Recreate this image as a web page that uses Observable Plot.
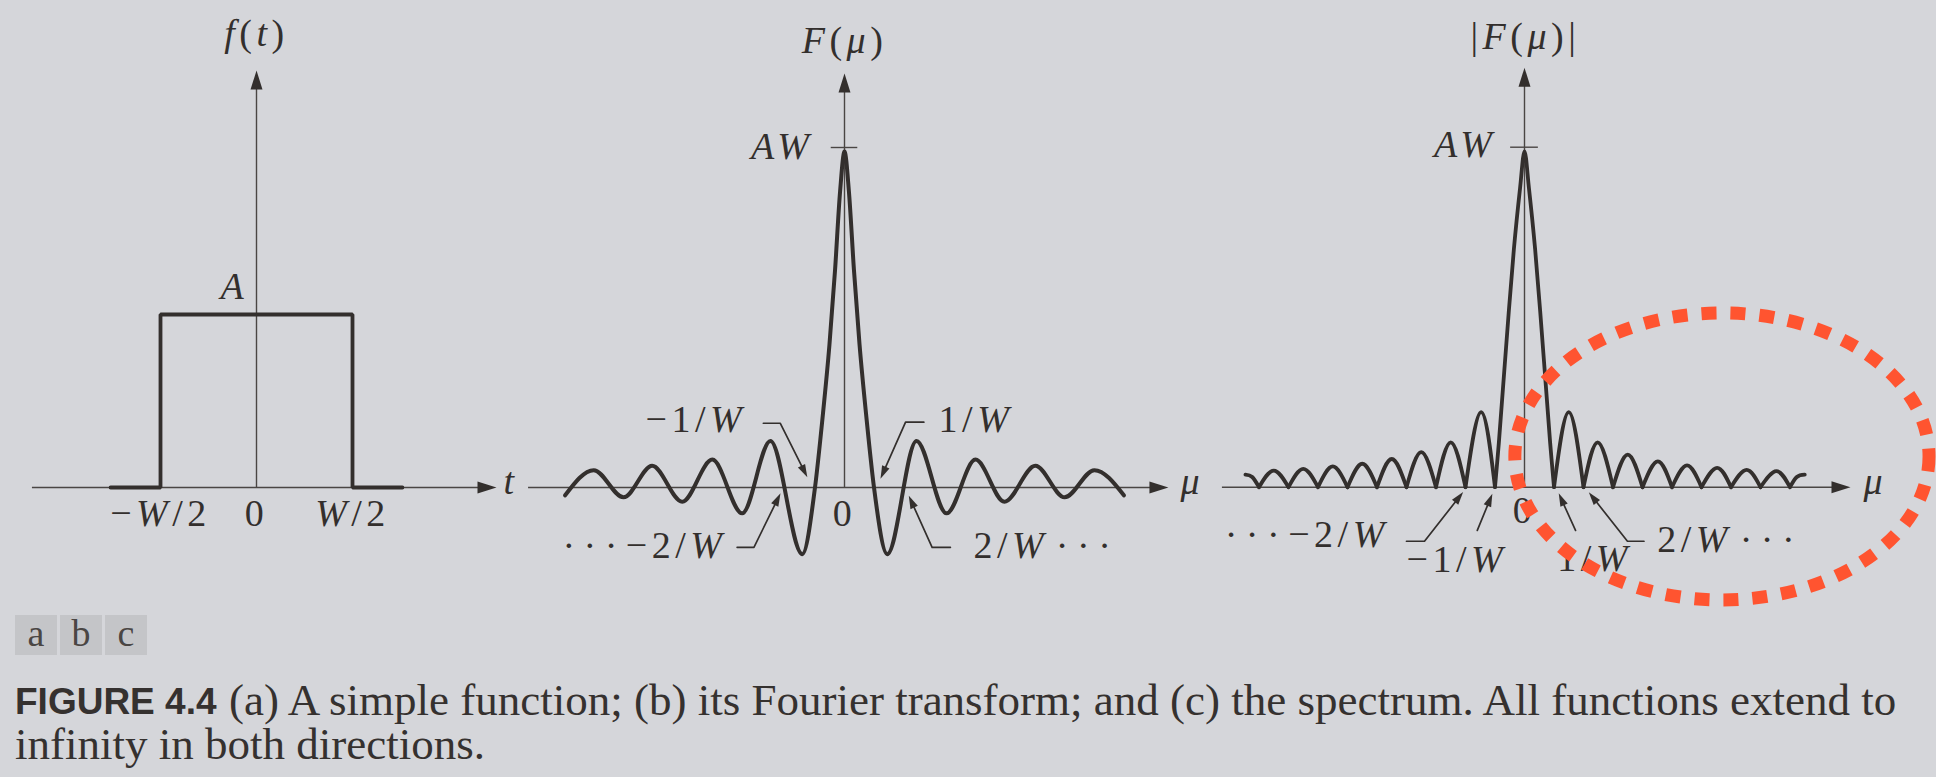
<!DOCTYPE html>
<html>
<head>
<meta charset="utf-8">
<script src="https://cdn.jsdelivr.net/npm/d3@7"></script>
<script src="https://cdn.jsdelivr.net/npm/@observablehq/plot@0.6"></script>
<style>
  html, body { margin: 0; padding: 0; background: #d5d6da; }
  #fig { position: relative; width: 1936px; height: 777px; overflow: hidden; background: #d5d6da; }
  .panel { position: absolute; top: 0; }
  .panel svg { overflow: visible; }
  .tag { position: absolute; top: 615px; width: 42px; height: 40px; background: #c4c5c8;
         font-family: "Liberation Serif", serif; font-size: 38px; color: #4a4644;
         text-align: center; line-height: 36px; }
  .cap { position: absolute; font-family: "Liberation Serif", serif; font-size: 45px; line-height: 42px;
         color: #35312f; white-space: nowrap; }
  .capb { position: absolute; font-family: "Liberation Sans", sans-serif; font-weight: 700; font-size: 37px;
          line-height: 34px; color: #35312f; white-space: nowrap; }
</style>
</head>
<body>
<div id="fig"></div>
<script>
// ---------------- DATA ----------------
// Panel (a): f(t); t in units of W, f in units of A
const pulseT = [-0.76, -0.5, -0.5, 0.5, 0.5, 0.76];
const pulseF = [0, 0, 1, 1, 0, 0];
const pulseTickT = [-0.5, 0, 0.5];
const pulseTickLabels = ["−W/2", "0", "W/2"];

// Panel (b): F(μ) extrema and main lobe; μ in units of 1/W, F in units of AW
const sincMu = [-9.47, -8.5, -7.49, -6.52, -5.5, -4.48, -3.47, -2.51, -1.43, -1,
                -0.75, -0.51, -0.32, -0.15, 0, 0.15, 0.32, 0.51, 0.75,
                1, 1.45, 2.44, 3.46, 4.44, 5.42, 6.47, 7.46, 8.47, 9.47];
const sincF  = [-0.023, 0.051, -0.029, 0.064, -0.042, 0.082, -0.076, 0.137, -0.196, 0,
                0.2, 0.42, 0.64, 0.87, 0.988, 0.87, 0.64, 0.42, 0.2,
                0, -0.196, 0.137, -0.076, 0.082, -0.042, 0.064, -0.029, 0.051, -0.023];

// Panel (c): |F(μ)| as lobes (lobe id, μ, |F|)
const specLobe = [-9,-9,-9, -8,-8,-8, -7,-7,-7, -6,-6,-6, -5,-5,-5, -4,-4,-4, -3,-3,-3, -2,-2,-2, -1,-1,-1,
                  0,0,0,0,0,0,0,0,0,0,0,
                  1,1,1, 2,2,2, 3,3,3, 4,4,4, 5,5,5, 6,6,6, 7,7,7, 8,8,8, 9,9,9];
const specMu = [-9.46,-9.23,-9, -9,-8.5,-8, -8,-7.5,-7, -7,-6.5,-6, -6,-5.5,-5, -5,-4.5,-4, -4,-3.5,-3, -3,-2.5,-2, -2,-1.47,-1,
                -1,-0.87,-0.67,-0.36,-0.15,0,0.15,0.36,0.67,0.87,1,
                1,1.5,2, 2,2.48,3, 3,3.5,4, 4,4.52,5, 5,5.51,6, 6,6.53,7, 7,7.53,8, 8,8.54,9, 9,9.23,9.5];
const specF  = [0.037,0.03,0, 0,0.049,0, 0,0.054,0, 0,0.061,0, 0,0.069,0, 0,0.083,0, 0,0.103,0, 0,0.132,0, 0,0.221,0,
                0,0.13,0.36,0.70,0.88,0.988,0.88,0.70,0.36,0.13,0,
                0,0.221,0, 0,0.132,0, 0,0.096,0, 0,0.076,0, 0,0.064,0, 0,0.057,0, 0,0.051,0, 0,0.047,0, 0,0.03,0.037];

const captionLabel = "FIGURE 4.4";
const captionLines = ["(a) A simple function; (b) its Fourier transform; and (c) the spectrum. All functions extend to",
                      "infinity in both directions."];
const panelTags = ["a", "b", "c"];

// ---------------- helpers ----------------
const ns = "http://www.w3.org/2000/svg";
const INK = "#332f2d", AXIS = "#4a4644", FONT = "Liberation Serif", FS = 38;
const DOTS = "···";
const fig = document.getElementById("fig");
const rows = (xs, ys, extra) => xs.map((x, i) => ({x, y: ys[i], ...(extra ? {z: extra[i]} : {})}));

function arrowHead(tip, from, k, L, W) {
  const dx = (tip[0] - from[0]) * k[0], dy = -(tip[1] - from[1]) * k[1];
  const n = Math.hypot(dx, dy), ux = dx / n, uy = dy / n;
  const symbol = {draw(ctx) {
    const bx = -ux * L, by = -uy * L;
    ctx.moveTo(0, 0);
    ctx.lineTo(bx - uy * W / 2, by + ux * W / 2);
    ctx.lineTo(bx + uy * W / 2, by - ux * W / 2);
    ctx.closePath();
  }};
  return Plot.dot([tip], {x: d => d[0], y: d => d[1], symbol, r: 5, fill: INK, stroke: "none"});
}
function leader(points, k) {
  const tip = points[points.length - 1], from = points[points.length - 2];
  const dx = (tip[0] - from[0]) * k[0], dy = -(tip[1] - from[1]) * k[1];
  const n = Math.hypot(dx, dy), back = 8;
  const end = [tip[0] - dx / n * back / k[0], tip[1] + dy / n * back / k[1]];
  return [
    Plot.line([...points.slice(0, -1), end], {x: d => d[0], y: d => d[1], stroke: INK, strokeWidth: 1.7}),
    arrowHead(tip, from, k, 13, 8)
  ];
}
function axes(k, xStart, xTip, yTip) {
  return [
    Plot.ruleY([0], {x1: xStart, x2: xTip - 10 / k[0], stroke: AXIS, strokeWidth: 1.4}),
    Plot.ruleX([0], {y1: 0, y2: yTip - 10 / k[1], stroke: AXIS, strokeWidth: 1.4}),
    arrowHead([xTip, 0], [xTip - 1, 0], k, 19, 12),
    arrowHead([0, yTip], [0, yTip - 1], k, 19, 12)
  ];
}
function label(text, x, y, anchor) {
  return Plot.text([text], {x: () => x, y: () => y, text: d => d, textAnchor: anchor || "middle",
    lineAnchor: "bottom", fontFamily: FONT, fontSize: FS, fill: INK});
}
function mathify(svg) {
  svg.querySelectorAll("text").forEach(t => {
    const s = t.textContent;
    t.textContent = "";
    for (const r of (s.match(/[A-Za-zμ]+|·+|[^A-Za-zμ·]+/g) || [])) {
      const ts = document.createElementNS(ns, "tspan");
      if (/[A-Za-zμ]/.test(r)) ts.setAttribute("font-style", "italic");
      if (/·/.test(r)) ts.setAttribute("letter-spacing", "8.5");
      ts.textContent = r;
      t.appendChild(ts);
    }
    t.setAttribute("letter-spacing", "4.5");
  });
}
function panel({left, width, height, x0, kx, y0, ky, marks}) {
  const svg = Plot.plot({
    width, height, marginTop: 0, marginRight: 0, marginBottom: 0, marginLeft: 0,
    x: {type: "linear", domain: [-x0 / kx, (width - x0) / kx], range: [0, width], axis: null},
    y: {type: "linear", domain: [(y0 - height) / ky, y0 / ky], range: [height, 0], axis: null},
    style: {background: "transparent", overflow: "visible", maxWidth: "none"},
    marks
  });
  mathify(svg);
  const div = document.createElement("div");
  div.className = "panel";
  div.style.left = left + "px";
  div.appendChild(svg);
  fig.appendChild(div);
}

// ---------------- panel (a) ----------------
{
  const kA = [192, 173];
  panel({left: 0, width: 520, height: 600, x0: 256, kx: kA[0], y0: 487, ky: kA[1], marks: [
    axes(kA, -1.167, 1.25, 2.41),
    Plot.line(rows(pulseT, pulseF), {x: "x", y: "y", stroke: INK, strokeWidth: 3.8, strokeLinejoin: "miter"}),
    Plot.text(pulseTickLabels, {x: (d, i) => pulseTickT[i], y: () => -0.22, text: d => d, textAnchor: "middle",
      lineAnchor: "bottom", fontFamily: FONT, fontSize: FS, fill: INK}),
    label("A", -0.115, 1.09),
    label("t", 1.286, -0.04, "start"),
    label("f(t)", 0, 2.55)
  ]});
}

// ---------------- panel (b) ----------------
{
  const kB = [29.5, 340];
  panel({left: 520, width: 700, height: 600, x0: 324, kx: kB[0], y0: 487, ky: kB[1], marks: [
    axes(kB, -10.71, 10.98, 1.218),
    Plot.ruleY([1], {x1: -0.45, x2: 0.45, stroke: AXIS, strokeWidth: 1.4}),
    Plot.line(rows(sincMu, sincF), {x: "x", y: "y", curve: "monotone-x", stroke: INK, strokeWidth: 4}),
    label("AW", -1.05, 0.965, "end"),
    label("F(μ)", 0, 1.279),
    label("0", 0, -0.112),
    label("μ", 11.39, -0.02, "start"),
    label("−1/W", -3.33, 0.162, "end"),
    label("1/W", 3.19, 0.162, "start"),
    label(DOTS + "−2/W", -4.0, -0.206, "end"),
    label("2/W\u200A" + DOTS, 4.37, -0.206, "start"),
    leader([[-2.75, 0.189], [-2.18, 0.189], [-1.26, 0.030]], kB),
    leader([[2.69, 0.192], [2.07, 0.192], [1.22, 0.026]], kB),
    leader([[-3.64, -0.176], [-3.07, -0.176], [-2.17, -0.017]], kB),
    leader([[3.59, -0.176], [2.97, -0.176], [2.18, -0.024]], kB)
  ]});
}

// ---------------- panel (c) ----------------
{
  const kC = [29.5, 340];
  const specRows = rows(specMu, specF, specLobe);
  const ellipse = (index, scales) => {
    const e = document.createElementNS(ns, "ellipse");
    const cx = 6.71, cy = 0.089, rx = 7.02, ry = 0.422;
    const X = scales.x(cx), Y = scales.y(cy);
    e.setAttribute("cx", X);
    e.setAttribute("cy", Y);
    e.setAttribute("rx", scales.x(cx + rx) - X);
    e.setAttribute("ry", Y - scales.y(cy + ry));
    e.setAttribute("fill", "none");
    e.setAttribute("stroke", "#ff5430");
    e.setAttribute("stroke-width", 13);
    e.setAttribute("stroke-dasharray", "15 14");
    return e;
  };
  panel({left: 1200, width: 736, height: 620, x0: 324, kx: kC[0], y0: 486.7, ky: kC[1], marks: [
    axes(kC, -10.24, 11.05, 1.234),
    Plot.ruleY([1], {x1: -0.47, x2: 0.47, stroke: AXIS, strokeWidth: 1.4}),
    Plot.line(specRows.filter(d => d.z !== 0), {x: "x", y: "y", z: "z", curve: "natural", stroke: INK,
      strokeWidth: 3.8, strokeLinecap: "round"}),
    Plot.line(specRows.filter(d => d.z === 0), {x: "x", y: "y", curve: "catmull-rom", stroke: INK,
      strokeWidth: 3.8, strokeLinecap: "round"}),
    label("AW", -0.95, 0.97, "end"),
    label("|F(μ)|", 0.03, 1.29),
    label("0", 0, -0.104),
    label("μ", 11.49, -0.021, "start"),
    label(DOTS + "−2/W", -4.6, -0.177, "end"),
    label("−1/W", -4.0, -0.25, "start"),
    label("1/W", 1.11, -0.245, "start"),
    label("2/W\u200A" + DOTS, 4.5, -0.192, "start"),
    leader([[-4.0, -0.159], [-3.39, -0.159], [-2.08, -0.014]], kC),
    leader([[-1.60, -0.127], [-1.09, -0.019]], kC),
    leader([[1.73, -0.127], [1.16, -0.018]], kC),
    leader([[4.05, -0.159], [3.49, -0.159], [2.18, -0.015]], kC),
    ellipse
  ]});
}

// ---------------- tags and caption ----------------
panelTags.forEach((t, i) => {
  const d = document.createElement("div");
  d.className = "tag";
  d.style.left = (15 + i * 45) + "px";
  d.textContent = t;
  fig.appendChild(d);
});
function capDiv(cls, text, left, top) {
  const d = document.createElement("div");
  d.className = cls;
  d.style.left = left + "px";
  d.style.top = top + "px";
  d.textContent = text;
  fig.appendChild(d);
}
capDiv("capb", captionLabel, 15, 685);
capDiv("cap", captionLines[0], 229, 679);
capDiv("cap", captionLines[1], 15, 723);
</script>
</body>
</html>
